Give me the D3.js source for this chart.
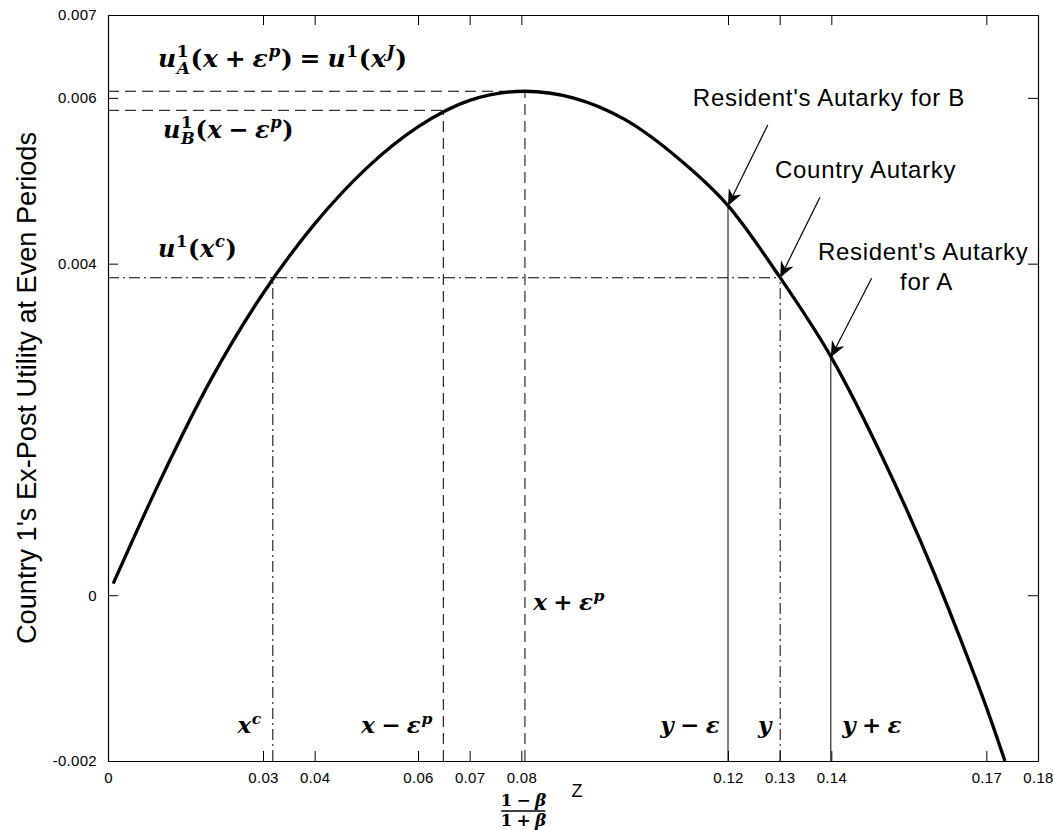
<!DOCTYPE html>
<html>
<head>
<meta charset="utf-8">
<script src="https://cdn.jsdelivr.net/npm/d3@7"></script>
<style>
  html, body { margin: 0; padding: 0; background: #fff; }
  svg { display: block; }
</style>
</head>
<body>
<svg id="chart" width="1053" height="830"></svg>
<script>
// ---------------- data ----------------
const xTicks = [0, 0.03, 0.04, 0.06, 0.07, 0.08, 0.12, 0.13, 0.14, 0.17, 0.18];
const xTickLabels = ["0", "0.03", "0.04", "0.06", "0.07", "0.08", "0.12", "0.13", "0.14", "0.17", "0.18"];
const yTicks = [-0.002, 0, 0.004, 0.006, 0.007];
const yTickLabels = ["-0.002", "0", "0.004", "0.006", "0.007"];

// utility curve
const curveX = [0.001, 0.01, 0.02, 0.03, 0.04, 0.05, 0.06, 0.07, 0.0807, 0.09, 0.10, 0.11, 0.12, 0.13, 0.14, 0.15, 0.16, 0.165, 0.17, 0.1736];
const curveY = [0.00014, 0.00137, 0.00261, 0.00364, 0.00448, 0.00515, 0.00565, 0.00597, 0.00608, 0.00600, 0.00574, 0.00529, 0.00470, 0.00384, 0.00287, 0.00165, 0.00025, -0.00053, -0.00135, -0.00200];

// reference lines
const dashedVX = [0.0649, 0.0807];
const dashedVTop = [0.00585, 0.00608];
const solidVX = [0.120, 0.1399];
const solidVTop = [0.00470, 0.00287];
const dashdotVX = [0.0319, 0.1301];
const dashdotVTop = [0.00383, 0.00383];
const dashedHY = [0.00608, 0.00585];
const dashedHEnd = [0.0807, 0.0649];
const dashdotHY = [0.00383];
const dashdotHEnd = [0.1301];

// annotations (text + arrows)
const noteText = ["Resident's Autarky for B", "Country Autarky", "Resident's Autarky", "for A"];
const noteX = [0.1132, 0.1291, 0.1374, 0.1533];
const noteY = [0.0059, 0.005033, 0.004044, 0.003682];
const arrowFromX = [0.1277, 0.1378, 0.1478];
const arrowFromY = [0.005673, 0.0048, 0.003823];
const arrowToX = [0.120, 0.1301, 0.1399];
const arrowToY = [0.00470, 0.00383, 0.00287];

// math labels: tokens [text, kind]
const mathTokens = [
  [["u","i"],["1","sup"],["A","subi"],["(","r"],["x","i"],["+","op"],["ε","i"],["p","supi"],[")","r"],["=","op"],["u","i"],["1","sup"],["(","r"],["x","i"],["J","supi"],[")","r"]],
  [["u","i"],["1","sup"],["B","subi"],["(","r"],["x","i"],["−","op"],["ε","i"],["p","supi"],[")","r"]],
  [["u","i"],["1","sup"],["(","r"],["x","i"],["c","supi"],[")","r"]],
  [["x","i"],["c","supi"]],
  [["x","i"],["−","op"],["ε","i"],["p","supi"]],
  [["x","i"],["+","op"],["ε","i"],["p","supi"]],
  [["y","i"],["−","op"],["ε","i"]],
  [["y","i"]],
  [["y","i"],["+","op"],["ε","i"]]
];
const mathX = [0.00968, 0.01065, 0.00968, 0.0298, 0.0629, 0.0823, 0.1185, 0.1285, 0.1421];
const mathY = [0.00637, 0.005516, 0.00408, -0.001662, -0.001662, -0.000178, -0.001662, -0.001662, -0.001662];
const mathAlign = ["start", "start", "start", "end", "end", "start", "end", "end", "start"];
const mathSize = [25, 24, 24, 23, 23, 23, 23, 23, 23];

const yAxisTitle = "Country 1's Ex-Post Utility at Even Periods";
const xAxisTitle = "Z";
const fracNum = [["1","r"],["−","op"],["β","i"]];
const fracDen = [["1","r"],["+","op"],["β","i"]];
const fracAt = 0.08;

// ---------------- drawing ----------------
const svg = d3.select("#chart");
const L = 108, R = 1038, T = 15, B = 761;
const x = d3.scaleLinear().domain([0, 0.18]).range([L, R]);
const y = d3.scaleLinear().domain([-0.002, 0.007]).range([B, T]);

const sans = "'Liberation Sans', Arial, sans-serif";
const serif = "'DejaVu Serif', 'Liberation Serif', serif";

// axes (ticks inward, MATLAB style box)
const tickLen = 10;
const fmtX = (d, i) => xTickLabels[i];
const fmtY = (d, i) => yTickLabels[i];

const gx = svg.append("g").attr("transform", `translate(0,${B})`)
  .call(d3.axisBottom(x).tickValues(xTicks).tickFormat(fmtX).tickSizeInner(-tickLen).tickSizeOuter(0).tickPadding(11));
const gxt = svg.append("g").attr("transform", `translate(0,${T})`)
  .call(d3.axisTop(x).tickValues(xTicks).tickFormat("").tickSizeInner(-tickLen).tickSizeOuter(0));
const gy = svg.append("g").attr("transform", `translate(${L},0)`)
  .call(d3.axisLeft(y).tickValues(yTicks).tickFormat(fmtY).tickSizeInner(-tickLen).tickSizeOuter(0).tickPadding(11));
const gyr = svg.append("g").attr("transform", `translate(${R},0)`)
  .call(d3.axisRight(y).tickValues(yTicks).tickFormat("").tickSizeInner(-tickLen).tickSizeOuter(0));

[gx, gxt, gy, gyr].forEach(g => {
  g.selectAll("path.domain").attr("stroke", "#000").attr("stroke-width", 1.2);
  g.selectAll(".tick line").attr("stroke", "#000").attr("stroke-width", 1);
  g.selectAll(".tick text").attr("fill", "#000").attr("font-family", sans).attr("font-size", 15).attr("letter-spacing", 0.3);
});

// axis titles
svg.append("text")
  .attr("transform", `translate(36,${(T + B) / 2}) rotate(-90)`)
  .attr("text-anchor", "middle")
  .attr("font-family", sans).attr("font-size", 27)
  .attr("textLength", 512).attr("lengthAdjust", "spacingAndGlyphs")
  .text(yAxisTitle);

svg.append("text")
  .attr("x", (L + R) / 2 + 4).attr("y", 797)
  .attr("text-anchor", "middle")
  .attr("font-family", sans).attr("font-size", 18)
  .text(xAxisTitle);

// reference lines
const plot = svg.append("g");
function vlines(xs, tops, dash) {
  plot.selectAll(null).data(xs).enter().append("line")
    .attr("x1", d => x(d)).attr("x2", d => x(d))
    .attr("y1", y(-0.002)).attr("y2", (d, i) => y(tops[i]))
    .attr("stroke", "#000").attr("stroke-width", 1)
    .attr("stroke-dasharray", dash);
}
function hlines(ys, ends, dash) {
  plot.selectAll(null).data(ys).enter().append("line")
    .attr("x1", x(0)).attr("x2", (d, i) => x(ends[i]))
    .attr("y1", d => y(d)).attr("y2", d => y(d))
    .attr("stroke", "#000").attr("stroke-width", 1)
    .attr("stroke-dasharray", dash);
}
const DASH = "11,6", DASHDOT = "11,4,2,4";
vlines(dashedVX, dashedVTop, DASH);
vlines(solidVX, solidVTop, null);
vlines(dashdotVX, dashdotVTop, DASHDOT);
hlines(dashedHY, dashedHEnd, DASH);
hlines(dashdotHY, dashdotHEnd, DASHDOT);

// curve
const pts = curveX.map((d, i) => [d, curveY[i]]);
plot.append("path")
  .datum(pts)
  .attr("fill", "none").attr("stroke", "#000").attr("stroke-width", 3.3)
  .attr("stroke-linejoin", "round")
  .attr("d", d3.line().x(d => x(d[0])).y(d => y(d[1])).curve(d3.curveMonotoneX));

// math text helper
function drawMath(sel, tokens, size) {
  let shift = 0, lastSupW = 0, pendingDx = 0;
  tokens.forEach(([t, k]) => {
    const ts = sel.append("tspan").text(t);
    let target = 0, fs = size;
    if (k === "sup" || k === "supi") { target = -0.40 * size; fs = 0.68 * size; }
    if (k === "subi") { target = 0.26 * size; fs = 0.68 * size; }
    ts.attr("font-size", fs)
      .attr("font-style", (k === "i" || k === "supi" || k === "subi") ? "italic" : "normal");
    ts.attr("dy", target - shift); shift = target;
    let dx = pendingDx; pendingDx = 0;
    if (k === "subi" && lastSupW) dx -= lastSupW;
    if (k === "op") { dx += 0.25 * size; pendingDx = 0.25 * size; }
    if (dx) ts.attr("dx", dx);
    lastSupW = (k === "sup" || k === "supi") ? ts.node().getComputedTextLength() : 0;
  });
}

mathTokens.forEach((tok, i) => {
  const t = svg.append("text")
    .attr("x", x(mathX[i])).attr("y", y(mathY[i]))
    .attr("text-anchor", mathAlign[i])
    .attr("letter-spacing", 0.6)
    .attr("font-family", serif).attr("font-weight", "bold");
  drawMath(t, tok, mathSize[i]);
});

// fraction (1-β)/(1+β) under the 0.08 tick
const fx = x(fracAt) + 2;
const tn = svg.append("text").attr("x", fx).attr("y", 806).attr("text-anchor", "middle")
  .attr("font-family", serif).attr("font-weight", "bold");
drawMath(tn, fracNum, 17);
const td = svg.append("text").attr("x", fx).attr("y", 826).attr("text-anchor", "middle")
  .attr("font-family", serif).attr("font-weight", "bold");
drawMath(td, fracDen, 17);
svg.append("line").attr("x1", fx - 22).attr("x2", fx + 22).attr("y1", 811).attr("y2", 811)
  .attr("stroke", "#000").attr("stroke-width", 1.4);

// annotation texts
svg.selectAll(null).data(noteText).enter().append("text")
  .attr("x", (d, i) => x(noteX[i])).attr("y", (d, i) => y(noteY[i]))
  .attr("font-family", sans).attr("font-size", 24).attr("letter-spacing", 0.7)
  .text(d => d);

// arrows (MATLAB-like notched head)
function arrowPath(x0, y0, x1, y1) {
  const ang = Math.atan2(y1 - y0, x1 - x0);
  const len = 16, half = 7, notch = 11;
  const cx = Math.cos(ang), sx = Math.sin(ang);
  const bx = x1 - len * cx, by = y1 - len * sx;
  const nx = x1 - notch * cx, ny = y1 - notch * sx;
  const p1 = [bx - half * sx, by + half * cx];
  const p2 = [bx + half * sx, by - half * cx];
  return `M${x1},${y1}L${p1[0]},${p1[1]}L${nx},${ny}L${p2[0]},${p2[1]}Z`;
}
arrowFromX.forEach((d, i) => {
  const x0 = x(d), y0 = y(arrowFromY[i]), x1 = x(arrowToX[i]), y1 = y(arrowToY[i]);
  const ang = Math.atan2(y1 - y0, x1 - x0);
  svg.append("line")
    .attr("x1", x0).attr("y1", y0)
    .attr("x2", x1 - 11 * Math.cos(ang)).attr("y2", y1 - 11 * Math.sin(ang))
    .attr("stroke", "#000").attr("stroke-width", 1.2);
  svg.append("path").attr("d", arrowPath(x0, y0, x1, y1)).attr("fill", "#000");
});
</script>
</body>
</html>
